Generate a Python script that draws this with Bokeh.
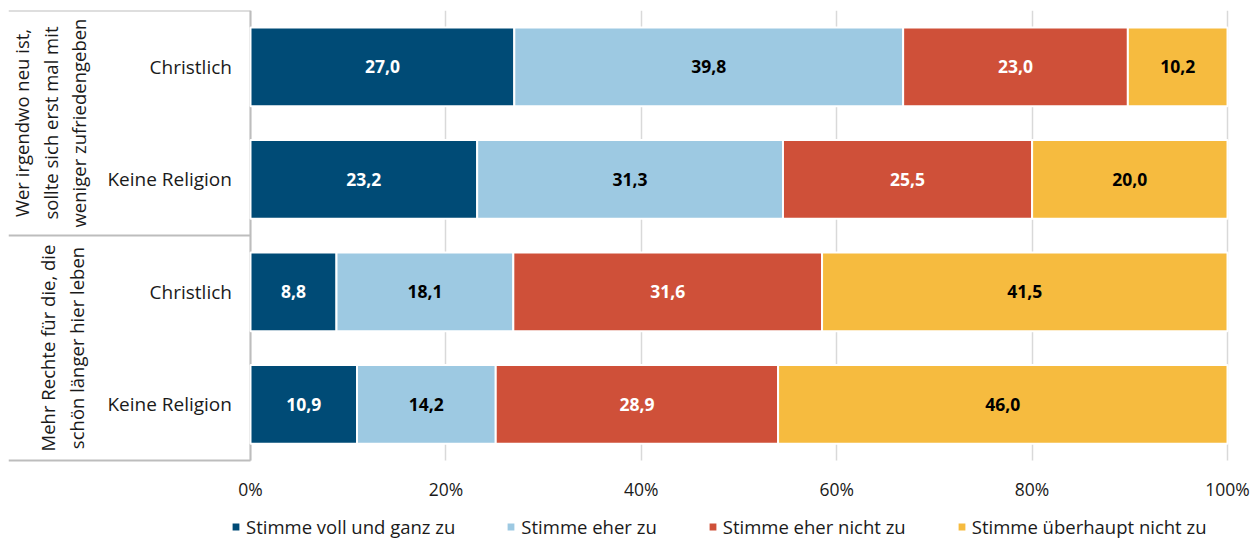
from bokeh.plotting import figure
from bokeh.models import (Range1d, FixedTicker, PrintfTickFormatter, Legend, LegendItem,
                          ColumnDataSource)
from bokeh.core.properties import value
from bokeh.embed import file_html
from bokeh.resources import INLINE
import math

FONT = "Open Sans"

rows = ["Christlich", "Keine Religion", "Christlich", "Keine Religion"]
groups = ["Wer irgendwo neu ist,\nsollte sich erst mal mit\nweniger zufriedengeben",
          "Mehr Rechte für die, die\nschön länger hier leben"]
series = ["Stimme voll und ganz zu", "Stimme eher zu", "Stimme eher nicht zu",
          "Stimme überhaupt nicht zu"]
voll = [27.0, 23.2, 8.8, 10.9]
eher = [39.8, 31.3, 18.1, 14.2]
eher_nicht = [23.0, 25.5, 31.6, 28.9]
ueberhaupt_nicht = [10.2, 20.0, 41.5, 46.0]
x_ticks = [0, 20, 40, 60, 80, 100]

colors = ["#004B76", "#9DC9E2", "#CF5039", "#F6BB3F"]
text_colors = ["white", "black", "white", "black"]
GREY = "#bdbdbd"
TXT = "#1a1a1a"

ypos = [3.5, 2.5, 1.5, 0.5]
X0 = -24.77   # left edge of the label area, in axis units
X1 = 103.07   # right edge of the canvas, in axis units
Y0 = -0.7022  # bottom of canvas (legend area), in row units

p = figure(frame_width=1249, frame_height=529, output_backend="svg", toolbar_location=None,
           x_range=Range1d(X0, X1), y_range=Range1d(Y0, 4), y_axis_location=None,
           min_border_left=8, min_border_right=0, min_border_top=10, min_border_bottom=0)
p.outline_line_color = None

# grid
p.xgrid.ticker = FixedTicker(ticks=x_ticks)
p.xgrid.grid_line_color = "#d9d9d9"
p.xgrid.grid_line_width = 1.5
p.xgrid.cross_bounds = (0, 4)
p.ygrid.grid_line_color = None

# x axis, fixed at the bottom of the bar area
p.xaxis.fixed_location = 0
p.xaxis.ticker = FixedTicker(ticks=x_ticks)
p.xaxis.formatter = PrintfTickFormatter(format="%d%%")
p.xaxis.axis_line_color = None
p.xaxis.major_tick_line_color = None
p.xaxis.major_tick_out = 0
p.xaxis.major_tick_in = 0
p.xaxis.minor_tick_line_color = None
p.xaxis.major_label_standoff = 16
p.xaxis.major_label_text_font = FONT
p.xaxis.major_label_text_font_size = "17.5px"
p.xaxis.major_label_text_color = TXT

# left label area: axis line, bracket lines
p.segment(x0=[0], y0=[0], x1=[0], y1=[4], line_color=GREY, line_width=2)
p.segment(x0=[X0] * 3, y0=[0, 2, 4], x1=[0] * 3, y1=[0, 2, 4], line_color=GREY, line_width=2)

# row labels
p.text(x=[-1.9] * 4, y=ypos, text=rows, text_align="right", text_baseline="middle",
       text_font=value(FONT), text_font_size="19px", text_color=TXT)

# group labels
p.text(x=[-20.5, -19.3], y=[3.0, 1.0], text=groups, angle=math.pi / 2,
       text_align="center", text_baseline="middle", text_font=value(FONT),
       text_font_size="18.5px", text_color=TXT, text_line_height=1.15)

vals = [voll, eher, eher_nicht, ueberhaupt_nicht]
left = [0.0] * 4
items = []
for i, (name, v) in enumerate(zip(series, vals)):
    right = [l + x for l, x in zip(left, v)]
    src = ColumnDataSource(dict(y=ypos, left=left, right=right,
                                mid=[(l + r) / 2 for l, r in zip(left, right)],
                                lab=[f"{x:.1f}".replace(".", ",") for x in v]))
    r = p.hbar(y="y", left="left", right="right", height=0.7, source=src,
               fill_color=colors[i], line_color="white", line_width=2)
    p.text(x="mid", y="y", text="lab", source=src, text_align="center",
           text_baseline="middle", text_font=value(FONT), text_font_style="bold",
           text_font_size="17.5px", text_color=text_colors[i])
    items.append(LegendItem(label=name, renderers=[r]))
    left = right

legend = Legend(items=items, orientation="horizontal", location=(222, 0),
                glyph_width=11, glyph_height=11, label_standoff=5, spacing=50,
                label_text_font=FONT, label_text_font_size="18.5px",
                label_text_color=TXT, border_line_color=None,
                background_fill_alpha=0, padding=0, margin=0)
p.add_layout(legend, "center")

open("out.html", "w").write(file_html(p, INLINE))
